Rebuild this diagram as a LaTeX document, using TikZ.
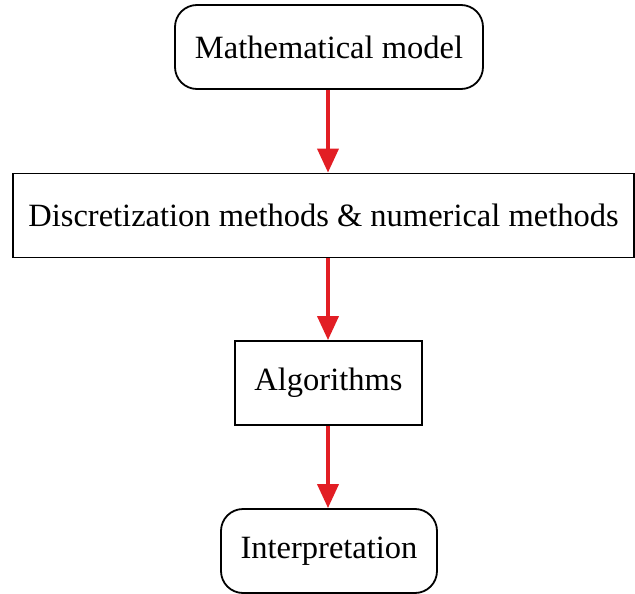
\documentclass[tikz,border=0pt]{standalone}
\usepackage{fontspec}
\setmainfont{Liberation Serif}
\usetikzlibrary{arrows.meta}
\definecolor{arrred}{RGB}{226,30,36}
\begin{document}
\begin{tikzpicture}[x=1pt,y=-1pt,
  box/.style={draw=black, line width=1.8pt, minimum height=84pt, inner sep=0pt, font=\fontsize{32.5}{38}\selectfont},
  rbox/.style={box, rounded corners=22pt},
  conn/.style={draw=arrred, line width=3.8pt, -{Triangle[length=24pt,width=21pt]}}]
\useasboundingbox (0,0) rectangle (635,594);
\node[rbox, minimum width=308pt] (mm) at (329,47) {Mathematical model};
\node[box, minimum width=621pt] (disc) at (323.5,215.5) {Discretization methods \& numerical methods};
\node[box, minimum width=187pt] (alg) at (328.5,383) {Algorithms};
\node[rbox, minimum width=216pt] (interp) at (329,551) {Interpretation};
\draw[conn] (mm.south -| 328,0) -- (disc.north -| 328,0);
\draw[conn] (disc.south -| 328,0) -- (alg.north -| 328,0);
\draw[conn] (alg.south -| 328,0) -- (interp.north -| 328,0);
\end{tikzpicture}
\end{document}
